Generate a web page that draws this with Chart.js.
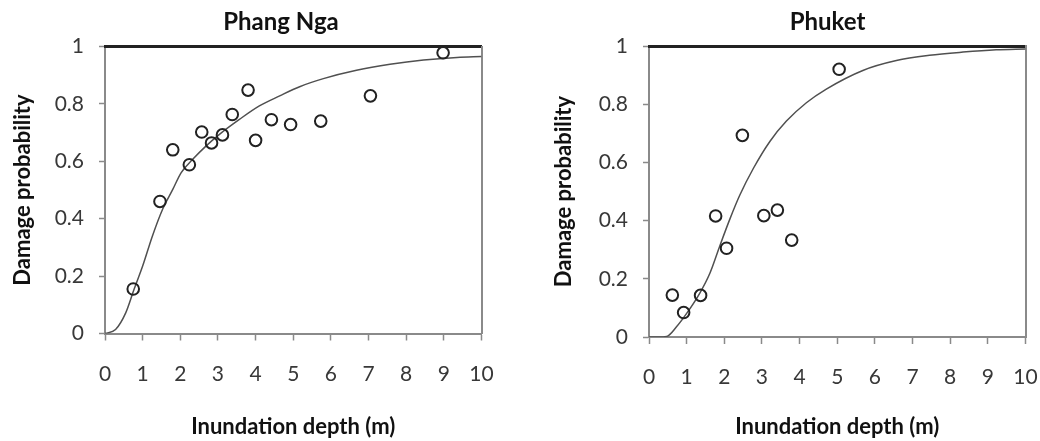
<!DOCTYPE html>
<html>
<head>
<meta charset="utf-8">
<script src="https://cdn.jsdelivr.net/npm/chart.js@4"></script>
<style>
    html, body { margin: 0; padding: 0; background: #fff; overflow: hidden; }
    #wrap { position: relative; width: 1040px; height: 441px; overflow: hidden; }
    canvas { position: absolute; top: 0; }
    #leftChart { left: 0; }
    #rightChart { left: 520px; }
</style>
</head>
<body>
<div id="wrap">
    <canvas id="leftChart" width="562" height="441"></canvas>
    <canvas id="rightChart" width="615" height="441"></canvas>
</div>
<script>
"use strict";

// tick labels
const depthTicks = ['0', '1', '2', '3', '4', '5', '6', '7', '8', '9', '10'];
const probTicks = ['0', '0.2', '0.4', '0.6', '0.8', '1'];

// Phang Nga - observed points
const phangNgaDepth = [0.75, 1.46, 1.80, 2.24, 2.57, 2.83, 3.12, 3.38, 3.80, 4.00, 4.42, 4.93, 5.73, 7.05, 8.98];
const phangNgaDamage = [0.155, 0.46, 0.64, 0.588, 0.702, 0.664, 0.692, 0.763, 0.848, 0.673, 0.745, 0.728, 0.74, 0.828, 0.978];
// Phang Nga - fitted curve
const phangNgaCurveDepth = [0, 0.28, 0.55, 0.77, 1.0, 1.26, 1.53, 1.8, 2.02, 2.33, 2.68, 3.04, 3.57, 4.1, 4.64, 5.17, 5.8, 6.68, 7.57, 8.46, 9.35, 10];
const phangNgaCurveDamage = [0, 0.014, 0.072, 0.153, 0.235, 0.34, 0.433, 0.502, 0.56, 0.607, 0.653, 0.694, 0.746, 0.793, 0.828, 0.86, 0.888, 0.917, 0.938, 0.953, 0.962, 0.965];

// Phuket - observed points
const phuketDepth = [0.62, 0.92, 1.37, 1.77, 2.06, 2.48, 3.05, 3.41, 3.79, 5.05];
const phuketDamage = [0.144, 0.084, 0.143, 0.416, 0.305, 0.693, 0.417, 0.436, 0.333, 0.92];
// Phuket - fitted curve
const phuketCurveDepth = [0, 0.25, 0.47, 0.73, 1.0, 1.35, 1.62, 1.88, 2.15, 2.41, 2.77, 3.21, 3.65, 4.18, 4.71, 5.68, 6.57, 7.45, 8.34, 9.22, 10];
const phuketCurveDamage = [0, 0, 0.002, 0.035, 0.081, 0.151, 0.22, 0.313, 0.406, 0.487, 0.579, 0.672, 0.742, 0.805, 0.852, 0.916, 0.95, 0.968, 0.979, 0.987, 0.99];

const FONT = 'Lato, "Open Sans", sans-serif';
const AXIS_GREY = '#8a8a8a';

function makeChart(id, title, depth, damage, curveDepth, curveDamage, box) {
    let ctx = document.getElementById(id).getContext('2d');
    let points = depth.map((d, i) => ({ x: d, y: damage[i] }));
    let curve = curveDepth.map((d, i) => ({ x: d, y: curveDamage[i] }));

    return new Chart(ctx, {
        type: 'scatter',
        data: {
            datasets: [{
                data: curve,
                showLine: true,
                borderColor: '#505050',
                borderWidth: 1.5,
                pointRadius: 0,
                cubicInterpolationMode: 'monotone',
                order: 2
            }, {
                data: points,
                pointRadius: 5.8,
                pointBorderWidth: 2,
                pointBorderColor: '#222',
                pointBackgroundColor: 'rgba(0,0,0,0)',
                order: 1
            }]
        },
        options: {
            responsive: false,
            animation: false,
            devicePixelRatio: 1,
            layout: { padding: 0 },
            plugins: {
                legend: { display: false },
                tooltip: { enabled: false },
                title: {
                    display: true,
                    text: title,
                    color: '#111',
                    font: { family: FONT, size: 24, weight: 'bold', lineHeight: 1.2 },
                    padding: { top: 8, bottom: box.top - 8 - 28.8 }
                }
            },
            scales: {
                x: {
                    type: 'linear',
                    position: 'bottom',
                    min: 0,
                    max: 10,
                    afterFit: s => { s.height = 441 - box.bottom; },
                    border: { color: AXIS_GREY, width: 2 },
                    grid: { drawOnChartArea: false, tickLength: 7, tickColor: AXIS_GREY, tickWidth: 1.5 },
                    ticks: {
                        stepSize: 1,
                        padding: 21,
                        maxRotation: 0,
                        autoSkip: false,
                        color: '#383838',
                        font: { family: FONT, size: 21 },
                        callback: (v, i) => depthTicks[i]
                    },
                    title: {
                        display: true,
                        text: 'Inundation depth (m)',
                        color: '#111',
                        font: { family: FONT, size: 22, weight: 'bold', lineHeight: 1.2 },
                        padding: { top: 0, bottom: 1 }
                    }
                },
                y: {
                    type: 'linear',
                    position: 'left',
                    min: 0,
                    max: 1,
                    afterFit: s => { s.width = box.left; },
                    border: { color: AXIS_GREY, width: 2 },
                    grid: { drawOnChartArea: false, tickLength: 6, tickColor: AXIS_GREY, tickWidth: 1.5 },
                    ticks: {
                        stepSize: 0.2,
                        padding: 15,
                        color: '#383838',
                        font: { family: FONT, size: 21 },
                        callback: (v, i) => probTicks[i]
                    },
                    title: {
                        display: true,
                        text: 'Damage probability',
                        color: '#111',
                        font: { family: FONT, size: 22, weight: 'bold', lineHeight: 1.2 },
                        padding: { top: box.yTitle - 13.2, bottom: 0 }
                    }
                },
                // frame: thick top line and grey right side
                x2: {
                    type: 'linear',
                    position: 'top',
                    min: 0,
                    max: 10,
                    afterFit: s => { s.height = 0; },
                    border: { color: '#222', width: 3 },
                    grid: { drawOnChartArea: false, drawTicks: false },
                    ticks: { display: false }
                },
                y2: {
                    type: 'linear',
                    position: 'right',
                    min: 0,
                    max: 1,
                    afterFit: s => { s.width = box.right; },
                    border: { color: AXIS_GREY, width: 2 },
                    grid: { drawOnChartArea: false, drawTicks: false },
                    ticks: { display: false }
                }
            }
        }
    });
}

// canvases are sized so that each title sits where it does in the figure
makeChart('leftChart', 'Phang Nga', phangNgaDepth, phangNgaDamage, phangNgaCurveDepth, phangNgaCurveDamage,
    { left: 105, right: 562 - 481.5, top: 46.5, bottom: 333.5, yTitle: 23 });
makeChart('rightChart', 'Phuket', phuketDepth, phuketDamage, phuketCurveDepth, phuketCurveDamage,
    { left: 129, right: 615 - 505.5, top: 46, bottom: 337, yTitle: 44 });
</script>
</body>
</html>
